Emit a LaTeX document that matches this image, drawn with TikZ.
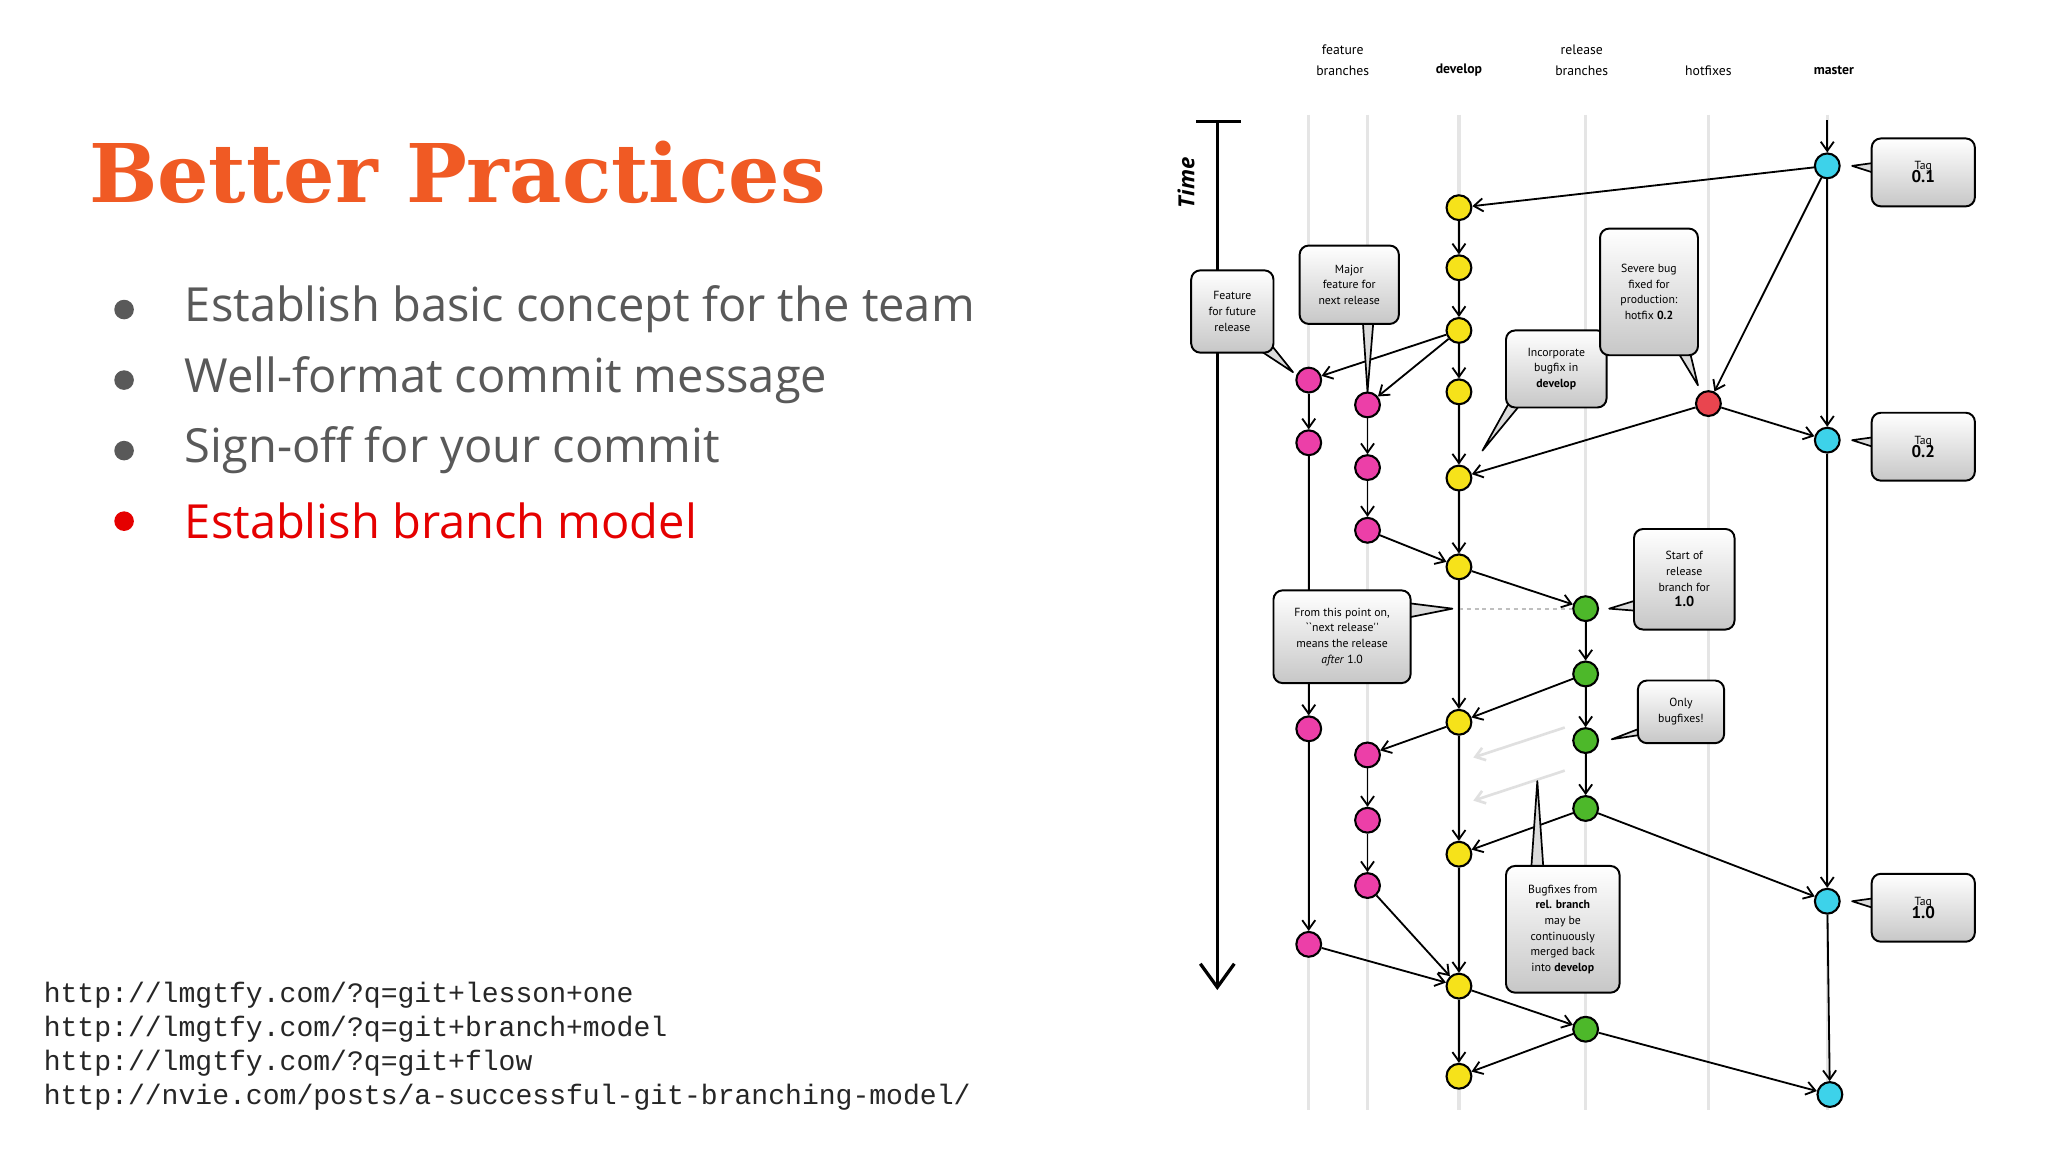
\documentclass[tikz,border=0pt]{standalone}
\usepackage{fontspec}
\setmainfont{Open Sans}
\newfontfamily\ttl{DejaVu Serif}
\newfontfamily\cf{PT Sans}
\newfontfamily\mono{Liberation Mono}
\usetikzlibrary{arrows.meta}
\definecolor{titlecol}{HTML}{F05A24}
\definecolor{txt}{HTML}{595959}
\definecolor{yel}{HTML}{F6E21A}
\definecolor{pnk}{HTML}{EC3FA8}
\definecolor{hot}{HTML}{E9454F}
\definecolor{grn}{HTML}{4DB82A}
\definecolor{cya}{HTML}{3DD2EA}
\begin{document}
\begin{tikzpicture}[x=1pt,y=-1pt,
  commit/.style={circle,draw=black,line width=1.6pt,minimum size=19pt,inner sep=0pt},
  Y/.style={commit,fill=yel}, P/.style={commit,fill=pnk}, H/.style={commit,fill=hot},
  G/.style={commit,fill=grn}, C/.style={commit,fill=cya},
  ar/.style={-{Straight Barb[length=7pt,width=10pt,line width=1.4pt]},line width=1.4pt},
  box/.style={draw=black,line width=1.5pt,rounded corners=7pt,top color=white,bottom color=black!22,
     font=\cf\fontsize{9}{12}\selectfont,align=center,inner sep=2pt},
  ptr/.style={draw=black,line width=1.3pt,fill=black!14,line join=round},
  hdr/.style={font=\cf\fontsize{10.5}{16}\selectfont,align=center},
  bul/.style={anchor=west,font=\fontsize{36}{40}\selectfont,text=txt},
  url/.style={anchor=west,font=\mono\fontsize{21.5}{24}\selectfont,text=black!85}]
\useasboundingbox (0,0) rectangle (1568,882);
\fill[white] (0,0) rectangle (1568,882);
% title and bullets
\node[anchor=base west,inner sep=0pt,text=titlecol] (title) at (68,155)
  {\resizebox{564pt}{!}{\ttl\bfseries\fontsize{60}{60}\selectfont Better Practices}};
\foreach \t/\y/\c [count=\i] in {Establish basic concept for the team/237/txt,
  Well-format commit message/291/txt, Sign-off for your commit/345/txt,
  Establish branch model/399/red!90!black}{
  \node[circle,fill=\c,minimum size=15pt,inner sep=0pt] (b\i) at (95,\y) {};
  \node[bul,text=\c] (t\i) at (138,\y) {\t};
}
\node[url] (u1) at (30,762) {http://lmgtfy.com/?q=git+lesson+one};
\node[url] (u2) at (30,788) {http://lmgtfy.com/?q=git+branch+model};
\node[url] (u3) at (30,814) {http://lmgtfy.com/?q=git+flow};
\node[url] (u4) at (30,840) {http://nvie.com/posts/a-successful-git-branching-model/};
% headers
\node[hdr] (hf) at (1028,46) {feature\\branches};
\node[hdr,font=\cf\bfseries\fontsize{10.5}{16}\selectfont] (hd) at (1117,54) {develop};
\node[hdr] (hr) at (1211,46) {release\\branches};
\node[hdr] (hh) at (1308,54) {hotfixes};
\node[hdr,font=\cf\bfseries\fontsize{10.5}{16}\selectfont] (hm) at (1404,54) {master};
% lanes
\foreach \x in {1002,1047,1117,1214,1308,1399}
  \draw[black!10,line width=2.5pt] (\x,88) -- (\x,850);
% time axis
\draw[line width=2.5pt] (916,93) -- (950,93);
\draw[line width=2.5pt,-{Straight Barb[length=18pt,width=26pt,line width=2.5pt]}] (932,93) -- (932,758);
\node[rotate=90,font=\bfseries\itshape\fontsize{17}{17}\selectfont] (time) at (908,140) {Time};
% faint arrows
\draw[black!12,line width=2pt,-{Straight Barb[length=7pt,width=10pt]}] (1198,557) -- (1128,580);
\draw[black!12,line width=2pt,-{Straight Barb[length=7pt,width=10pt]}] (1198,590) -- (1128,613);
% commits
\node[C] (m1) at (1399,127) {}; \node[C] (m2) at (1399,337) {};
\node[C] (m3) at (1399,690) {}; \node[C] (m4) at (1401,838) {};
\foreach \y [count=\i] in {159,205,253,300,366,434,553,654,755,824} \node[Y] (d\i) at (1117,\y) {};
\foreach \y [count=\i] in {291,339,558,723} \node[P] (f\i) at (1002,\y) {};
\foreach \y [count=\i] in {310,358,406,578,628,678} \node[P] (g\i) at (1047,\y) {};
\node[H] (h1) at (1308,309) {};
\foreach \y [count=\i] in {466,516,567,619,788} \node[G] (r\i) at (1214,\y) {};
\draw[black!25,line width=1.5pt,dashed] (d6|-r1) -- (r1);
% edges
\coordinate (mtop) at (1399,92);
\draw[ar] (mtop) -- (m1);
\foreach \a/\b in {d1/d2,d2/d3,d3/d4,d4/d5,d5/d6,d6/d7,d7/d8,d8/d9,d9/d10,
  m1/d1,m1/h1,m1/m2,m2/m3,m3/m4,h1/m2,h1/d5,d3/f1,d3/g1,f1/f2,f2/f3,f3/f4,f4/d9,
  g1/g2,g2/g3,g3/d6,d6/r1,r1/r2,r2/r3,r3/r4,r2/d7,d7/g4,g4/g5,g5/g6,g6/d9,
  r4/d8,r4/m3,d9/r5,r5/d10,r5/m4}
  \draw[ar] (\a) -- (\b);
% callouts
\draw[ptr] (955,262) -- (990,285) -- (966,255);
\node[box,minimum width=63pt,minimum height=63pt] (c1) at (943.5,238.5) {Feature\\for future\\release};
\draw[ptr] (1043,240) -- (1047,300) -- (1052,240);
\node[box,minimum width=76pt,minimum height=60pt] (c2) at (1033,218) {Major\\feature for\\next release};
\draw[ptr] (1160,300) -- (1135,345) -- (1172,300);
\node[box,minimum width=77pt,minimum height=59pt] (c3) at (1191.5,282.5) {Incorporate\\bugfix in\\\textbf{develop}};
\draw[ptr] (1280,262) -- (1300,295) -- (1292,262);
\node[box,minimum width=75pt,minimum height=97pt] (c4) at (1262.5,223.5) {Severe bug\\fixed for\\production:\\hotfix \textbf{0.2}};
\foreach \n/\y/\t in {ta/132/0.1,tb/342/0.2,tc/695/1.0}{
  \draw[ptr] (1440,\y-8) -- (1418,\y-5) -- (1440,\y+2);
  \node[box,minimum width=79pt,minimum height=52pt] (\n) at (1472.5,\y) {Tag\\[-2pt]{\fontsize{13}{14}\selectfont\bfseries\t}};
}
\draw[ptr] (1258,458) -- (1232,466) -- (1258,468);
\node[box,minimum width=77pt,minimum height=77pt] (c5) at (1289.5,443.5) {Start of\\release\\branch for\\{\fontsize{11}{13}\selectfont\bfseries 1.0}};
\draw[ptr] (1072,461) -- (1112,466) -- (1072,474);
\node[box,minimum width=105pt,minimum height=71pt] (c6) at (1027.5,487.5) {From this point on,\\``next release''\\means the release\\\textit{after} 1.0};
\draw[ptr] (1260,556) -- (1234,566) -- (1260,562);
\node[box,minimum width=66pt,minimum height=48pt] (c7) at (1287,545) {Only\\bugfixes!};
\draw[ptr] (1172,670) -- (1177,598) -- (1182,670);
\node[box,minimum width=87pt,minimum height=97pt] (c8) at (1196.5,711.5) {Bugfixes from\\\textbf{rel. branch}\\may be\\continuously\\merged back\\into \textbf{develop}};
\end{tikzpicture}
\end{document}
